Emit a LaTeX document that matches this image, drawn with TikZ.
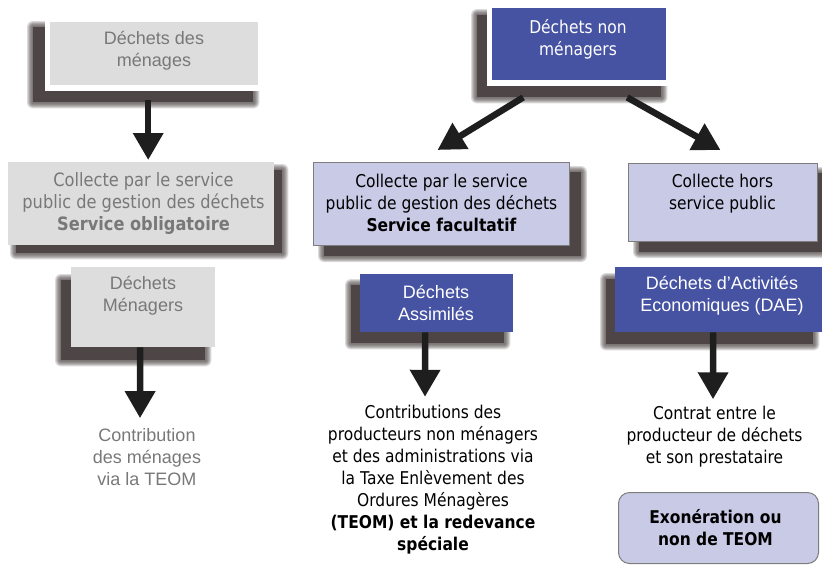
\documentclass[tikz,border=0pt]{standalone}
\usepackage{fontspec}
\setmainfont{Liberation Sans}
\newfontfamily\tah[FakeStretch=0.88]{DejaVu Sans}
\usetikzlibrary{arrows.meta,backgrounds}
\definecolor{grayfill}{RGB}{221,221,221}
\definecolor{graytext}{RGB}{120,120,120}
\definecolor{bluefill}{RGB}{70,82,162}
\definecolor{lavfill}{RGB}{200,202,230}
\definecolor{lavborder}{RGB}{125,125,125}
\definecolor{arrowc}{RGB}{30,30,30}
\definecolor{shadowc}{RGB}{78,70,70}
% #1 node, #2 dx, #3 dy, #4 grow
\newcommand\dropshadow[4]{%
  \begin{scope}[on background layer]
    \foreach \r in {6,5,4,3,2,1}{%
      \fill[shadowc, opacity=0.2, rounded corners=\r pt]
        ([shift={(#2-#4-\r,#3-#4-\r)}]#1.north west) rectangle ([shift={(#2+#4+\r,#3+#4+\r)}]#1.south east);
    }
    \fill[shadowc]
      ([shift={(#2-#4,#3-#4)}]#1.north west) rectangle ([shift={(#2+#4,#3+#4)}]#1.south east);
  \end{scope}}
\tikzset{
  boxbase/.style={rectangle, inner sep=0pt, anchor=north west},
  graybox/.style={boxbase, fill=grayfill},
  bluebox/.style={boxbase, fill=bluefill},
  lavbox/.style={boxbase, fill=lavfill, draw=lavborder, line width=1pt},
  wframe/.style={preaction={draw=white, line width=11pt}},
  txt/.style={inner sep=0pt, align=center, font=\fontsize{18}{22}\selectfont},
  tahtxt/.style={inner sep=0pt, align=center, font=\tah\fontsize{17.6}{22}\selectfont},
  bigarrow/.style={draw=arrowc, line width=6.5pt, -{Triangle[length=27pt,width=29pt]}}
}
\begin{document}
\begin{tikzpicture}[x=1pt,y=-1pt]
\useasboundingbox (0,0) rectangle (822,566);
% boxes
\node[graybox, wframe, minimum width=208pt, minimum height=63pt] (b1) at (50,22) {};
\node[graybox, minimum width=266pt, minimum height=83pt] (b2) at (8,162) {};
\node[graybox, minimum width=144pt, minimum height=80pt] (b3) at (71,267) {};
\node[bluebox, wframe, minimum width=174pt, minimum height=72pt] (b4) at (492,8) {};
\node[lavbox, minimum width=256pt, minimum height=83pt] (b5) at (313,162) {};
\node[lavbox, minimum width=189pt, minimum height=78pt] (b6) at (628,163) {};
\node[bluebox, minimum width=153pt, minimum height=58pt] (b7) at (360,274) {};
\node[bluebox, minimum width=207pt, minimum height=65pt] (b8) at (615,267) {};
\node[lavbox, rounded corners=11pt, minimum width=200pt, minimum height=71pt] (b9) at (618,492) {};
% shadows
\dropshadow{b1}{-11}{11}{6}
\dropshadow{b2}{8}{8}{0}
\dropshadow{b3}{-10}{13}{0}
\dropshadow{b4}{-10}{12}{5}
\dropshadow{b5}{11}{10}{0}
\dropshadow{b6}{11}{10}{0}
\dropshadow{b7}{-9}{11}{0}
\dropshadow{b8}{-9}{12}{0}
% texts
\node[txt, text=graytext] (t1) at (154,51) {Déchets des\\ménages};
\node[tahtxt, text=graytext, font=\tah\fontsize{18.4}{22}\selectfont] (t2) at (143.5,203) {Collecte par le service\\public de gestion des déchets\\\textbf{Service obligatoire}};
\node[txt, text=graytext] (t3b) at (143,296) {Déchets\\Ménagers};
\node[txt, text=graytext] (t3) at (147,457) {Contribution\\des ménages\\via la TEOM};
\node[tahtxt, text=white] (t4) at (578,39) {Déchets non\\ménagers};
\node[tahtxt] (t5) at (441.5,203) {Collecte par le service\\public de gestion des déchets\\\textbf{Service facultatif}};
\node[tahtxt] (t6) at (722.5,194) {Collecte hors\\service public};
\node[txt, text=white] (t7b) at (436,302.5) {Déchets\\Assimilés};
\node[txt, text=white] (t8b) at (722,296) {Déchets d’Activités\\Economiques (DAE)};
\node[tahtxt] (t7) at (433,479.5) {Contributions des\\producteurs non ménagers\\et des administrations via\\la Taxe Enlèvement des\\Ordures Ménagères\\\textbf{(TEOM) et la redevance}\\\textbf{spéciale}};
\node[tahtxt] (t8) at (714.5,437) {Contrat entre le\\producteur de déchets\\et son prestataire};
\node[tahtxt, font=\tah\bfseries\fontsize{17.6}{22}\selectfont] (t9) at (715.5,527.5) {Exonération ou\\non de TEOM};
% arrows
\draw[bigarrow] ([shift={(-6,15)}]b1.south) -- ([shift={(7,-2)}]b2.north);
\draw[bigarrow] ([shift={(-3,0)}]b3.south) -- ([shift={(-7,-10)}]t3.north);
\draw[bigarrow] ([shift={(-56,17)}]b4.south) -- ([shift={(-4,-12)}]b5.north);
\draw[bigarrow] ([shift={(48,17)}]b4.south) -- ([shift={(-2.5,-13)}]b6.north);
\draw[bigarrow] ([shift={(-11.5,0)}]b7.south) -- ([shift={(-8,-8)}]t7.north);
\draw[bigarrow] ([shift={(-5.5,0)}]b8.south) -- ([shift={(-1.5,-7)}]t8.north);
\end{tikzpicture}
\end{document}
